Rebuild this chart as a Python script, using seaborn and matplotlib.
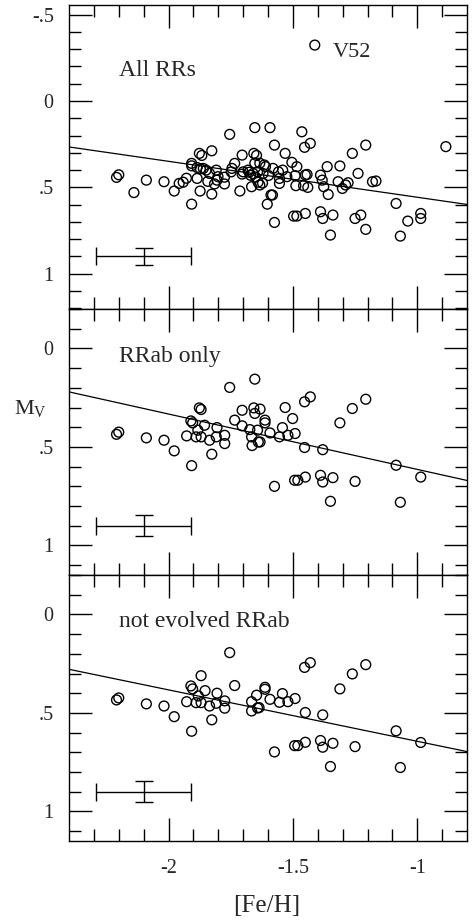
import numpy as np
import pandas as pd
import matplotlib
matplotlib.use("Agg")
import matplotlib.pyplot as plt
import seaborn as sns

# ---------------- data ----------------
# Panel 1: All RRs
all_feh = [-2.209, -2.200, -2.139, -2.089, -2.018, -1.977, -1.957, -1.941, -1.928, -1.907,
           -1.907, -1.907, -1.876, -1.866, -1.885, -1.872, -1.860, -1.885, -1.873, -1.849,
           -1.826, -1.835, -1.842, -1.826, -1.808, -1.805, -1.801, -1.815, -1.775, -1.775,
           -1.754, -1.745, -1.734, -1.748, -1.713, -1.704, -1.704, -1.700, -1.680, -1.676,
           -1.670, -1.666, -1.660, -1.653, -1.657, -1.646, -1.653, -1.633, -1.642, -1.650,
           -1.640, -1.633, -1.622, -1.615, -1.610, -1.620, -1.598, -1.592, -1.603, -1.588,
           -1.582, -1.574, -1.574, -1.580, -1.558, -1.554, -1.554, -1.541, -1.531, -1.524,
           -1.504, -1.484, -1.491, -1.488, -1.497, -1.484, -1.464, -1.453, -1.430, -1.450,
           -1.450, -1.443, -1.457, -1.440, -1.389, -1.389, -1.380, -1.382, -1.376, -1.362,
           -1.358, -1.349, -1.339, -1.318, -1.311, -1.301, -1.288, -1.278, -1.261, -1.250,
           -1.227, -1.238, -1.207, -1.207, -1.180, -1.166, -1.085, -1.068, -1.038, -0.986,
           -0.986, -0.885, -1.412]
all_mv = [0.442, 0.427, 0.530, 0.458, 0.467, 0.521, 0.477, 0.470, 0.447, 0.361,
          0.375, 0.597, 0.303, 0.315, 0.385, 0.392, 0.390, 0.448, 0.521, 0.400,
          0.288, 0.419, 0.465, 0.539, 0.400, 0.458, 0.438, 0.480, 0.441, 0.480,
          0.193, 0.390, 0.361, 0.410, 0.521, 0.313, 0.423, 0.410, 0.400, 0.412,
          0.430, 0.496, 0.420, 0.154, 0.303, 0.315, 0.360, 0.360, 0.410, 0.440,
          0.470, 0.486, 0.475, 0.370, 0.380, 0.420, 0.431, 0.154, 0.597, 0.544,
          0.544, 0.255, 0.703, 0.390, 0.410, 0.448, 0.477, 0.400, 0.303, 0.438,
          0.355, 0.380, 0.432, 0.490, 0.666, 0.666, 0.178, 0.268, 0.245, 0.651,
          0.428, 0.425, 0.490, 0.500, 0.429, 0.641, 0.680, 0.458, 0.496, 0.380,
          0.541, 0.776, 0.660, 0.467, 0.376, 0.506, 0.486, 0.473, 0.303, 0.680,
          0.660, 0.419, 0.255, 0.743, 0.467, 0.463, 0.593, 0.782, 0.695, 0.651,
          0.680, 0.264, -0.324]

# Panel 2: RRab only
ab_feh = [-2.209, -2.200, -2.089, -2.018, -1.977, -1.927, -1.907, -1.910, -1.903, -1.876,
          -1.869, -1.855, -1.882, -1.889, -1.869, -1.835, -1.826, -1.805, -1.808, -1.774,
          -1.774, -1.754, -1.734, -1.704, -1.704, -1.673, -1.666, -1.664, -1.653, -1.657,
          -1.653, -1.632, -1.642, -1.639, -1.632, -1.612, -1.612, -1.592, -1.574, -1.554,
          -1.542, -1.531, -1.520, -1.501, -1.491, -1.493, -1.480, -1.453, -1.430, -1.453,
          -1.450, -1.389, -1.380, -1.380, -1.349, -1.339, -1.311, -1.261, -1.250, -1.207,
          -1.085, -1.068, -0.986]
ab_mv = [0.436, 0.425, 0.454, 0.466, 0.520, 0.444, 0.595, 0.368, 0.378, 0.302,
         0.310, 0.390, 0.415, 0.449, 0.449, 0.466, 0.537, 0.402, 0.449, 0.441,
         0.483, 0.198, 0.364, 0.314, 0.393, 0.412, 0.449, 0.493, 0.156, 0.302,
         0.330, 0.308, 0.415, 0.475, 0.475, 0.364, 0.378, 0.429, 0.700, 0.449,
         0.402, 0.300, 0.441, 0.356, 0.432, 0.669, 0.669, 0.271, 0.246, 0.503,
         0.653, 0.644, 0.678, 0.514, 0.776, 0.656, 0.378, 0.305, 0.675, 0.258,
         0.593, 0.781, 0.653]

# Panel 3: not evolved RRab
ne_feh = [-2.209, -2.200, -2.089, -2.018, -1.977, -1.927, -1.907, -1.910, -1.903, -1.869,
          -1.853, -1.880, -1.889, -1.869, -1.835, -1.826, -1.805, -1.808, -1.774, -1.774,
          -1.754, -1.734, -1.666, -1.666, -1.646, -1.642, -1.636, -1.612, -1.612, -1.592,
          -1.574, -1.554, -1.542, -1.520, -1.491, -1.493, -1.480, -1.453, -1.430, -1.450,
          -1.450, -1.389, -1.380, -1.380, -1.349, -1.339, -1.311, -1.261, -1.250, -1.207,
          -1.085, -1.068, -0.986]
ne_mv = [0.434, 0.424, 0.454, 0.465, 0.519, 0.443, 0.593, 0.363, 0.378, 0.311,
         0.387, 0.414, 0.448, 0.448, 0.465, 0.535, 0.400, 0.451, 0.439, 0.476,
         0.194, 0.361, 0.443, 0.490, 0.410, 0.475, 0.473, 0.370, 0.380, 0.431,
         0.698, 0.446, 0.402, 0.443, 0.427, 0.666, 0.666, 0.269, 0.245, 0.498,
         0.649, 0.640, 0.674, 0.510, 0.772, 0.654, 0.378, 0.302, 0.671, 0.255,
         0.591, 0.777, 0.650]

panel_labels = ["All RRs", "RRab only", "not evolved RRab"]
fit_slopes = [0.208, 0.281, 0.261]
fit_intercepts = [0.765, 0.895, 0.905]
err_x, err_y, err_xerr, err_yerr = -2.1, 0.9, 0.19, 0.052

x_ticks = [-2.0, -1.5, -1.0]
x_ticklabels = ["-2", "-1.5", "-1"]
y_ticks_top = [-0.5, 0.0, 0.5, 1.0]
y_ticklabels_top = ["-.5", "0", ".5", "1"]
y_ticks = [0.0, 0.5, 1.0]
y_ticklabels = ["0", ".5", "1"]

# ---------------- style ----------------
sns.set_style("ticks")
plt.rcParams.update({
    "font.family": ["Liberation Serif", "DejaVu Serif"],
    "mathtext.fontset": "custom",
    "mathtext.rm": "Liberation Serif",
    "mathtext.it": "Liberation Serif:italic",
})

W, H = 473, 921
fig = plt.figure(figsize=(W / 100, H / 100), dpi=100)

left, right = 69 / W, 467 / W
bounds_px = [(5, 309), (309, 575), (575, 841)]
ylims = [(1.204, -0.556), (1.15, -0.2), (1.15, -0.2)]
datasets = [(all_feh, all_mv), (ab_feh, ab_mv), (ne_feh, ne_mv)]
label_pos = [(-2.2, -0.145), (-2.2, 0.068), (-2.2, 0.066)]

xlim = (-2.4, -0.8)
for i, ((top_px, bot_px), (fx, fy)) in enumerate(zip(bounds_px, datasets)):
    ax = fig.add_axes([left, 1 - bot_px / H, right - left, (bot_px - top_px) / H])
    df = pd.DataFrame({"feh": fx, "mv": fy})
    sns.scatterplot(data=df, x="feh", y="mv", ax=ax, marker="o", s=50,
                    facecolor="none", edgecolor="black", linewidth=1.0, zorder=3)
    lx = np.array(xlim)
    line_df = pd.DataFrame({"feh": lx, "mv": fit_slopes[i] * lx + fit_intercepts[i]})
    sns.lineplot(data=line_df, x="feh", y="mv", ax=ax, color="black", linewidth=0.9)
    ax.errorbar(err_x, err_y, xerr=err_xerr, yerr=err_yerr, fmt="none",
                ecolor="black", elinewidth=1.0, capsize=6.5, capthick=1.0)
    ax.set_xlim(*xlim)
    ax.set_ylim(*ylims[i])
    ax.set_xticks(x_ticks)
    ax.set_xticks(np.round(np.arange(-2.3, -0.85, 0.1), 2), minor=True)
    if i == 0:
        ax.set_yticks(y_ticks_top, y_ticklabels_top)
        ax.set_yticks(np.round(np.arange(-0.5, 1.25, 0.1), 2), minor=True)
    else:
        ax.set_yticks(y_ticks, y_ticklabels)
        ax.set_yticks(np.round(np.arange(-0.2, 1.2, 0.1), 2), minor=True)
    if i == 2:
        ax.set_xticklabels(x_ticklabels)
    else:
        ax.set_xticklabels([])
    ax.tick_params(which="both", direction="in", top=True, right=True,
                   color="black", width=1)
    ax.tick_params(which="major", length=16.5, labelsize=14.5)
    ax.tick_params(which="minor", length=8.6)
    ax.tick_params(axis="y", which="major", pad=11)
    ax.tick_params(axis="x", which="major", pad=13)
    for sp in ax.spines.values():
        sp.set_linewidth(1.0)
        sp.set_color("black")
    ax.set_xlabel("")
    ax.set_ylabel("")
    ax.text(label_pos[i][0], label_pos[i][1], panel_labels[i], fontsize=17,
            ha="left", va="baseline")
    if i == 0:
        ax.text(-1.339, -0.257, "V52", fontsize=16, ha="left", va="baseline")

fig.text(14 / W, 1 - 413.5 / H, r"M$_\mathrm{V}$", fontsize=16, ha="left", va="baseline")
fig.text(267 / W, 1 - 911.5 / H, "[Fe/H]", fontsize=18, ha="center", va="baseline")

fig.savefig("out.png", dpi=100)
